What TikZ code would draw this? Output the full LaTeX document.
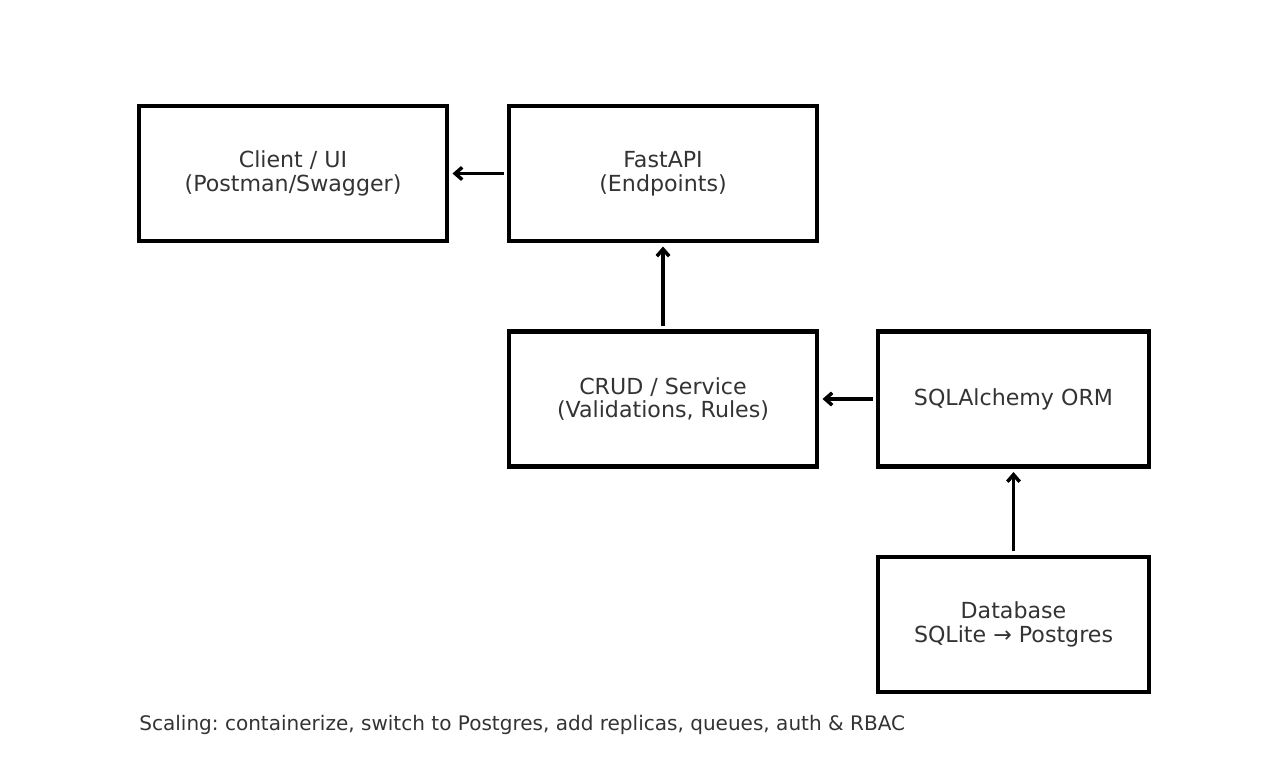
\documentclass[tikz,border=0pt]{standalone}
\usepackage{fontspec}
\setmainfont{DejaVu Sans}
\usetikzlibrary{arrows.meta}
\definecolor{txt}{HTML}{333333}
\frenchspacing
\begin{document}
\begin{tikzpicture}[x=0.02cm,y=-0.02cm,
	box/.style={draw,line width=2.3pt,minimum width=6.16cm,minimum height=2.7cm,
		align=center,text=txt,font=\fontsize{12.6}{13.4}\selectfont},
	smallbox/.style={box,minimum width=5.42cm},
	arr/.style={line width=2pt,-{Straight Barb[length=4pt,width=7pt,line width=2pt]},
		shorten <=2pt,shorten >=2pt}]
\useasboundingbox (0,0) rectangle (1264,784);
\node[box] (client) at (293,173.5) {Client / UI\\(Postman/Swagger)};
\node[box] (api) at (663,173.5) {FastAPI\\(Endpoints)};
\node[box] (crud) at (663,399) {CRUD / Service\\(Validations, Rules)};
\node[smallbox] (orm) at (1013.5,399) {SQLAlchemy ORM};
\node[smallbox] (db) at (1013.5,624.5) {Database\\SQLite → Postgres};
\draw[arr] (api) -- (client);
\draw[arr] (crud) -- (api);
\draw[arr] (orm) -- (crud);
\draw[arr] (db) -- (orm);
\node[anchor=west,text=txt,font=\fontsize{11.4}{13}\selectfont,inner sep=0pt] (note) at (139,725)
	{Scaling: containerize, switch to Postgres, add replicas, queues, auth \& RBAC};
\end{tikzpicture}
\end{document}
